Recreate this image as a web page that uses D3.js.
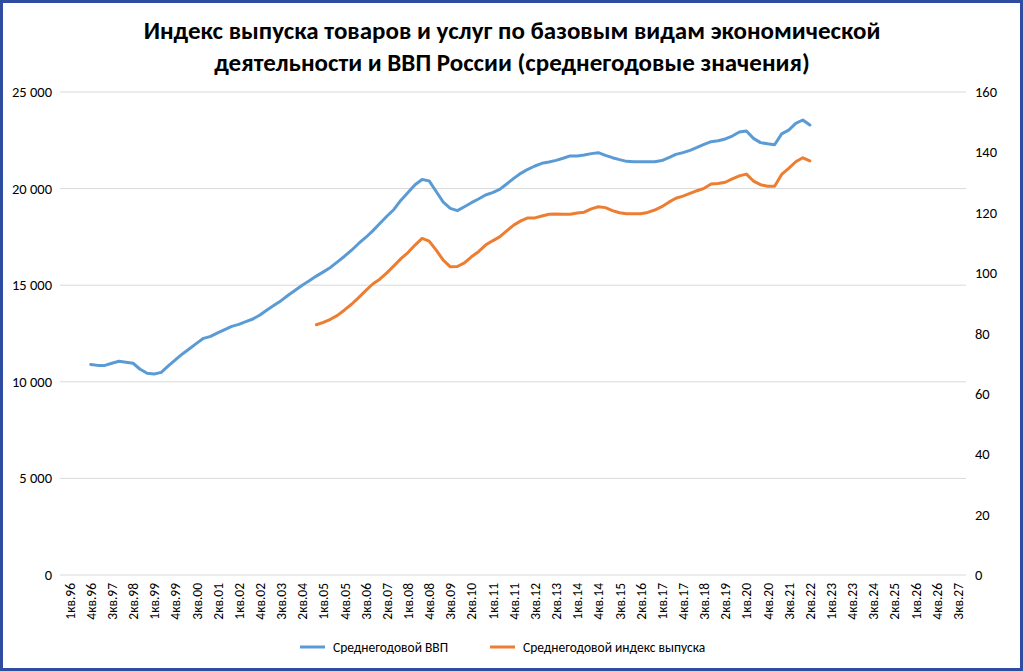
<!DOCTYPE html>
<html><head><meta charset="utf-8">
<script src="https://cdn.jsdelivr.net/npm/d3@7"></script>
<style>body{margin:0;background:#fff}svg{font-family:Calibri,Carlito,"Open Sans",sans-serif}</style>
</head><body><svg id="c" width="1023" height="671"></svg>
<script>
const years=[];for(let y=96;y<=127;y++)years.push(String(y%100).padStart(2,'0'));
const quarters=[];years.forEach(y=>{for(let q=1;q<=4;q++)quarters.push(q+"кв."+y);});
const gdpStart=3;
const gdp=[10.9,10.85,10.85,10.96,11.06,11.01,10.96,10.65,10.44,10.4,10.49,10.82,11.13,11.44,11.71,11.99,12.25,12.35,12.53,12.7,12.87,12.97,13.11,13.25,13.46,13.72,13.96,14.2,14.48,14.74,15.0,15.23,15.47,15.69,15.92,16.21,16.5,16.81,17.16,17.47,17.81,18.19,18.57,18.92,19.4,19.8,20.2,20.47,20.4,19.85,19.3,18.98,18.86,19.06,19.27,19.46,19.67,19.79,19.96,20.24,20.53,20.79,21.0,21.17,21.31,21.38,21.46,21.57,21.69,21.69,21.74,21.81,21.86,21.72,21.6,21.5,21.41,21.39,21.39,21.39,21.39,21.45,21.6,21.77,21.86,21.98,22.13,22.29,22.43,22.48,22.57,22.72,22.93,22.98,22.6,22.38,22.32,22.27,22.83,23.03,23.38,23.55,23.29].map(v=>v*1000);
const idxStart=35;
const outIdx=[82.9,83.7,84.7,86.0,87.8,89.7,91.9,94.2,96.4,98.0,100.1,102.4,104.8,106.8,109.3,111.5,110.6,107.6,104.3,102.1,102.2,103.4,105.4,107.1,109.3,110.7,112.0,114.0,115.9,117.3,118.3,118.3,118.9,119.5,119.6,119.5,119.5,119.9,120.2,121.3,122.0,121.7,120.7,120.0,119.7,119.7,119.7,120.1,120.9,122.0,123.5,124.8,125.5,126.4,127.3,128.1,129.5,129.7,130.1,131.2,132.2,132.8,130.5,129.3,128.8,128.8,132.7,134.7,136.9,138.2,137.2];
const leftTicks=[0,5000,10000,15000,20000,25000];
const rightTicks=[0,20,40,60,80,100,120,140,160];
const title=["Индекс выпуска товаров и услуг по базовым видам экономической","деятельности и ВВП России (среднегодовые значения)"];
const legend=["Среднегодовой ВВП","Среднегодовой индекс выпуска"];
const colors=["#5b9bd5","#ed7d31"];

const svg=d3.select("#c");
svg.append("rect").attr("x",1.5).attr("y",1.5).attr("width",1020).attr("height",668).attr("fill","#fff").attr("stroke","#2e4da0").attr("stroke-width",3);
const L=60,R=966,T=92,B=575;
const x=d3.scalePoint().domain(quarters).range([L+9.6,L+9.6+7.05*(quarters.length-1)]);
const yl=d3.scaleLinear().domain([0,25000]).range([B,T]);
const yr=d3.scaleLinear().domain([0,160]).range([B,T]);
svg.append("g").selectAll("line").data(leftTicks.slice(1)).join("line").attr("x1",L).attr("x2",R).attr("y1",d=>yl(d)).attr("y2",d=>yl(d)).attr("stroke","#d9d9d9").attr("stroke-width",1);
svg.append("line").attr("x1",L).attr("x2",R).attr("y1",B).attr("y2",B).attr("stroke","#d9d9d9");
const fmt=d=>d3.format(",")(d).replace(/,/g," ");
svg.append("g").selectAll("text").data(leftTicks).join("text").attr("x",52).attr("y",d=>yl(d)+5).attr("text-anchor","end").attr("font-size",14.5).text(fmt);
svg.append("g").selectAll("text").data(rightTicks).join("text").attr("x",975).attr("y",d=>yr(d)+5).attr("text-anchor","start").attr("font-size",14.5).text(d=>d);
const lab=quarters.filter((q,i)=>i%3===0);
svg.append("g").selectAll("text").data(lab).join("text").attr("transform",d=>`translate(${x(d)+5},583) rotate(-90)`).attr("text-anchor","end").attr("font-size",13.5).text(d=>d);
const g1=gdp.map((v,i)=>[quarters[gdpStart+i],v]);
const g2=outIdx.map((v,i)=>[quarters[idxStart+i],v]);
svg.append("path").attr("d",d3.line().x(d=>x(d[0])).y(d=>yl(d[1]))(g1)).attr("fill","none").attr("stroke",colors[0]).attr("stroke-width",3).attr("stroke-linejoin","round").attr("stroke-linecap","round");
svg.append("path").attr("d",d3.line().x(d=>x(d[0])).y(d=>yr(d[1]))(g2)).attr("fill","none").attr("stroke",colors[1]).attr("stroke-width",3).attr("stroke-linejoin","round").attr("stroke-linecap","round");
svg.append("g").selectAll("text").data(title).join("text").attr("x",512).attr("y",(d,i)=>39+i*32).attr("text-anchor","middle").attr("font-size",25).attr("font-weight","bold").text(d=>d);
const lx=[300,490];
legend.forEach((t,i)=>{
 svg.append("line").attr("x1",lx[i]).attr("x2",lx[i]+25).attr("y1",647).attr("y2",647).attr("stroke",colors[i]).attr("stroke-width",3);
 svg.append("text").attr("x",lx[i]+33).attr("y",652).attr("font-size",13.5).text(t);
});
</script></body></html>
